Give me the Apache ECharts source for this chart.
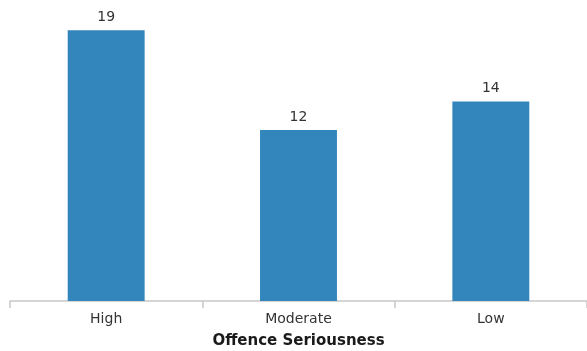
<!DOCTYPE html>
<html>
<head>
<meta charset="utf-8">
<script src="https://cdn.jsdelivr.net/npm/echarts@6/dist/echarts.min.js"></script>
<style>
html,body{margin:0;padding:0;background:#fff;}
#main{width:587px;height:351px;}
</style>
</head>
<body>
<div id="main"></div>
<script>
// 类别及数值
var categories = ['High', 'Moderate', 'Low'];
var counts = [19, 12, 14];

var chart = echarts.init(document.getElementById('main'));
var option = {
    animation: false,
    grid: {left: 10, right: 0, top: 16, bottom: 50, outerBoundsMode: 'none', containLabel: false},
    xAxis: {
        type: 'category',
        data: categories,
        name: 'Offence Seriousness',
        nameLocation: 'middle',
        nameGap: 33,
        nameTextStyle: {fontFamily: 'DejaVu Sans', fontWeight: 'bold', fontSize: 15, color: '#1a1a1a'},
        axisLine: {lineStyle: {color: '#c8c8c8', width: 1.5}},
        axisTick: {show: true, length: 7, lineStyle: {color: '#c8c8c8', width: 1.5}},
        axisLabel: {fontFamily: 'DejaVu Sans', fontSize: 14, color: '#333', margin: 11}
    },
    yAxis: {
        type: 'value',
        min: 0,
        max: 20,
        show: false,
        splitLine: {show: false}
    },
    series: [{
        type: 'bar',
        data: counts,
        barWidth: '40%',
        itemStyle: {color: '#3386bc'},
        label: {
            show: true,
            position: 'top',
            distance: 6,
            fontFamily: 'DejaVu Sans',
            fontSize: 14,
            color: '#333'
        }
    }]
};
chart.setOption(option);
</script>
</body>
</html>
